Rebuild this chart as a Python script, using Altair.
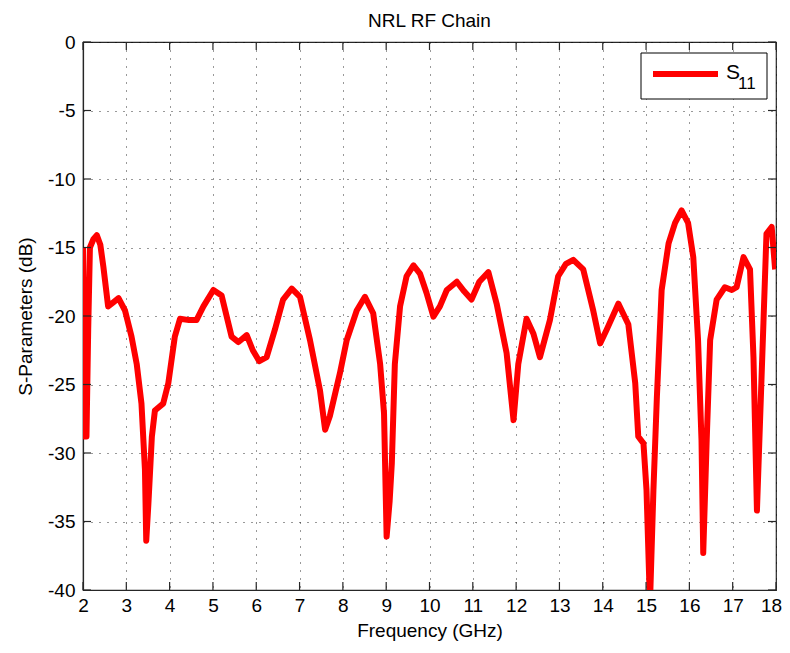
import altair as alt
import pandas as pd

freq_ghz = [2.00, 2.04, 2.08, 2.12, 2.16, 2.24, 2.32, 2.40, 2.47, 2.58, 2.70, 2.82, 2.97,
            3.12, 3.24, 3.35, 3.43, 3.46, 3.51, 3.59, 3.66, 3.85, 3.97, 4.12, 4.24, 4.45,
            4.62, 4.78, 5.01, 5.20, 5.43, 5.59, 5.78, 5.92, 6.07, 6.24, 6.43, 6.62, 6.82,
            7.01, 7.24, 7.47, 7.59, 7.70, 7.93, 8.09, 8.32, 8.51, 8.70, 8.86, 8.95, 9.01,
            9.08, 9.13, 9.20, 9.32, 9.47, 9.63, 9.78, 9.93, 10.09, 10.24, 10.40, 10.63,
            10.80, 10.97, 11.15, 11.36, 11.55, 11.78, 11.94, 12.05, 12.24, 12.40, 12.55,
            12.78, 12.97, 13.15, 13.32, 13.55, 13.78, 13.94, 14.09, 14.36, 14.59, 14.75,
            14.82, 14.94, 15.01, 15.09, 15.17, 15.25, 15.36, 15.52, 15.67, 15.82, 15.97,
            16.09, 16.20, 16.28, 16.32, 16.40, 16.48, 16.63, 16.82, 16.98, 17.09, 17.25,
            17.40, 17.48, 17.56, 17.63, 17.71, 17.78, 17.90, 17.98]
s11_db = [-15.0, -28.8, -28.8, -21.0, -15.0, -14.4, -14.1, -14.8, -16.4, -19.3, -19.0, -18.7, -19.6,
          -21.5, -23.5, -26.4, -31.2, -36.4, -33.7, -28.8, -26.9, -26.4, -24.9, -21.5, -20.2, -20.3,
          -20.3, -19.3, -18.1, -18.5, -21.5, -21.9, -21.4, -22.5, -23.3, -23.0, -21.0, -18.8, -18.0,
          -18.6, -21.75, -25.4, -28.3, -27.3, -24.2, -21.75, -19.6, -18.6, -19.8, -23.5, -27.1, -36.1,
          -33.5, -30.75, -23.5, -19.3, -17.1, -16.3, -16.9, -18.3, -20.05, -19.3, -18.1, -17.5,
          -18.2, -18.8, -17.5, -16.8, -19.1, -22.7, -27.6, -23.5, -20.2, -21.3, -23.0,
          -20.3, -17.1, -16.2, -15.9, -16.6, -19.6, -22.0, -21.0, -19.1, -20.6, -24.9,
          -28.8, -29.3, -32.7, -41.0, -32.7, -25.9, -18.1, -14.7, -13.2, -12.3, -13.2,
          -15.7, -21.75, -29.05, -37.3, -29.05, -21.75, -18.8, -17.9, -18.1, -17.9, -15.7,
          -16.6, -23.0, -34.2, -27.8, -20.5, -14.0, -13.5, -16.6]

x_ticks = list(range(2, 19))
y_ticks = [0, -5, -10, -15, -20, -25, -30, -35, -40]

title_text = "NRL RF Chain"
x_title = "Frequency (GHz)"
y_title = "S-Parameters (dB)"
legend_main = "S"
legend_sub = "11"

W, H = 693, 548
FONT = "Liberation Sans"
AX = "#262626"

df = pd.DataFrame({"f": freq_ghz, "s": s11_db})
xt = pd.DataFrame({"t": x_ticks})
yt = pd.DataFrame({"t": y_ticks})
one = pd.DataFrame({"k": [0]})

xs = alt.Scale(domain=[2, 18], nice=False, zero=False)
ys = alt.Scale(domain=[-40, 0], nice=False, zero=False)

axis_common = dict(
    tickSize=0, grid=True, gridDash=[1, 7], gridColor="#000000", gridOpacity=0.8,
    labelExpr="datum.value + ''", labelFlush=False, labelOverlap=False,
    labelFont=FONT, labelFontSize=19, labelColor="#000000",
    titleFont=FONT, titleFontSize=19, titleFontWeight="normal", titleColor="#000000",
    domainColor=AX, domainWidth=1.2,
)

base_x = alt.X("f:Q", scale=xs, title=x_title,
               axis=alt.Axis(values=x_ticks, labelPadding=6, titlePadding=6,
                             labelOffset={"expr": "datum.value == 18 ? -5 : 0"},
                             **axis_common))
base_y = alt.Y("s:Q", scale=ys, title=y_title,
               axis=alt.Axis(values=y_ticks, labelPadding=8, titlePadding=12, **axis_common))

line = alt.Chart(df).mark_line(color="#ff0000", strokeWidth=6, clip=True,
                               strokeJoin="round", strokeCap="butt").encode(x=base_x, y=base_y)

tick_style = dict(color=AX, strokeWidth=1.2)
xt_bot = alt.Chart(xt).mark_rule(**tick_style).encode(
    x=alt.X("t:Q", scale=xs), y=alt.value(H), y2=alt.value(H - 8))
xt_top = alt.Chart(xt).mark_rule(**tick_style).encode(
    x=alt.X("t:Q", scale=xs), y=alt.value(0), y2=alt.value(8))
yt_left = alt.Chart(yt).mark_rule(**tick_style).encode(
    y=alt.Y("t:Q", scale=ys), x=alt.value(0), x2=alt.value(8))
yt_right = alt.Chart(yt).mark_rule(**tick_style).encode(
    y=alt.Y("t:Q", scale=ys), x=alt.value(W), x2=alt.value(W - 8))

leg_box = alt.Chart(one).mark_rect(fill="white", stroke="#000000", strokeWidth=1).encode(
    x=alt.value(558), x2=alt.value(684), y=alt.value(11), y2=alt.value(57))
leg_line = alt.Chart(one).mark_rule(color="#ff0000", strokeWidth=6).encode(
    x=alt.value(570), x2=alt.value(635), y=alt.value(32))
leg_s = alt.Chart(one).mark_text(text=legend_main, font=FONT, fontSize=21, align="left",
                                 baseline="alphabetic", color="#000000").encode(
    x=alt.value(643), y=alt.value(37))
leg_sub = alt.Chart(one).mark_text(text=legend_sub, font=FONT, fontSize=17, align="left",
                                   baseline="alphabetic", color="#000000").encode(
    x=alt.value(655), y=alt.value(47))

chart = alt.layer(line, xt_bot, xt_top, yt_left, yt_right,
                  leg_box, leg_line, leg_s, leg_sub).properties(
    width=W, height=H,
    title=alt.TitleParams(title_text, font=FONT, fontSize=19, fontWeight="normal",
                          color="#000000", anchor="middle", offset=2),
    autosize=alt.AutoSizeParams(type="none"),
    padding={"left": 75, "top": 34, "right": 6, "bottom": 55},
    background="white",
).configure_view(stroke=AX, strokeWidth=1.2)

chart.save("out.html", embed_options={"renderer": "svg", "actions": False})
